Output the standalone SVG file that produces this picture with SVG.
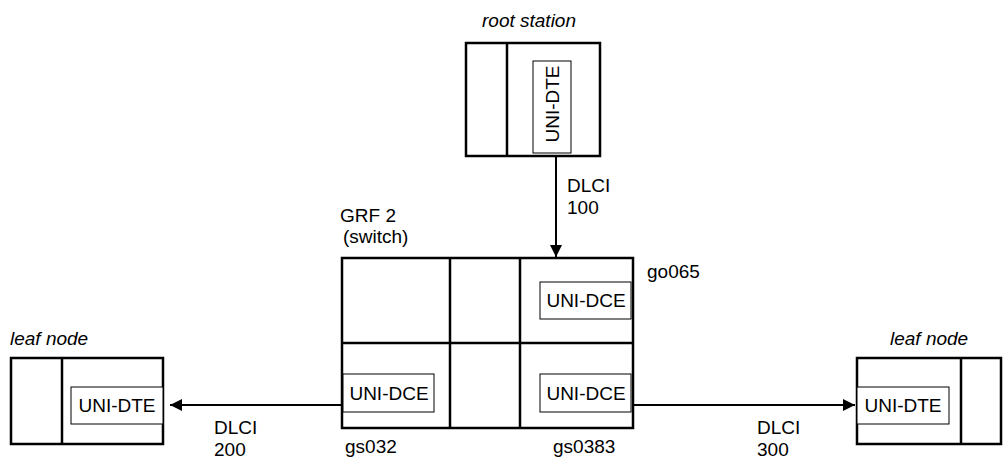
<svg xmlns="http://www.w3.org/2000/svg" width="1004" height="460" viewBox="0 0 1004 460">
<defs>
<style>
.box{fill:#fff;stroke:#000;stroke-width:2.5}
.div{stroke:#000;stroke-width:2.5}
.inner{fill:#fff;stroke:#000;stroke-width:1}
.t{font-family:"Liberation Sans",Arial,sans-serif;font-size:19px;fill:#000}
.i{font-style:italic}
.conn{stroke:#000;stroke-width:2;fill:none}
</style>
<marker id="ah" viewBox="0 0 10 10" refX="10" refY="5" markerWidth="12" markerHeight="12" markerUnits="userSpaceOnUse" orient="auto">
<path d="M0,0 L10,5 L0,10 z" fill="#000"/>
</marker>
</defs>
<rect width="1004" height="460" fill="#fff"/>

<g id="root-station">
<text class="t i" x="529" y="27" text-anchor="middle">root station</text>
<rect class="box" x="466" y="43" width="134" height="113"/>
<line class="div" x1="507" y1="43" x2="507" y2="156"/>
<rect class="inner" x="533" y="61" width="38" height="92"/>
<text class="t" x="0" y="0" text-anchor="middle" transform="translate(558.5,104) rotate(-90)">UNI-DTE</text>
</g>

<g id="switch">
<text class="t" x="340" y="222">GRF 2</text>
<text class="t" x="343" y="243">(switch)</text>
<rect class="box" x="342" y="258" width="291" height="170"/>
<line class="div" x1="450" y1="258" x2="450" y2="428"/>
<line class="div" x1="520" y1="258" x2="520" y2="428"/>
<line class="div" x1="342" y1="343" x2="633" y2="343"/>
<rect class="inner" x="540" y="282" width="91" height="37"/>
<text class="t" x="586" y="307" text-anchor="middle">UNI-DCE</text>
<rect class="inner" x="343" y="374" width="91" height="38"/>
<text class="t" x="389" y="400" text-anchor="middle">UNI-DCE</text>
<rect class="inner" x="540" y="374" width="91" height="38"/>
<text class="t" x="586" y="400" text-anchor="middle">UNI-DCE</text>
<text class="t" x="647" y="278">go065</text>
<text class="t" x="345" y="453">gs032</text>
<text class="t" x="553" y="453">gs0383</text>
</g>

<g id="leaf-left">
<text class="t i" x="10" y="345">leaf node</text>
<rect class="box" x="11" y="358" width="152" height="86"/>
<line class="div" x1="62" y1="358" x2="62" y2="444"/>
<rect class="inner" x="71" y="387" width="92" height="37"/>
<text class="t" x="117" y="412" text-anchor="middle">UNI-DTE</text>
</g>

<g id="leaf-right">
<text class="t i" x="890" y="345">leaf node</text>
<rect class="box" x="857" y="358" width="144" height="86"/>
<line class="div" x1="961" y1="358" x2="961" y2="444"/>
<rect class="inner" x="857" y="387" width="92" height="37"/>
<text class="t" x="903" y="412" text-anchor="middle">UNI-DTE</text>
</g>

<g id="connectors">
<line class="conn" x1="556" y1="156" x2="556" y2="257" marker-end="url(#ah)"/>
<line class="conn" x1="342" y1="405" x2="170" y2="405" marker-end="url(#ah)"/>
<line class="conn" x1="633" y1="405" x2="855" y2="405" marker-end="url(#ah)"/>
<text class="t" x="567" y="192">DLCI</text>
<text class="t" x="567" y="214">100</text>
<text class="t" x="214" y="434">DLCI</text>
<text class="t" x="214" y="456">200</text>
<text class="t" x="757" y="434">DLCI</text>
<text class="t" x="757" y="456">300</text>
</g>
</svg>
